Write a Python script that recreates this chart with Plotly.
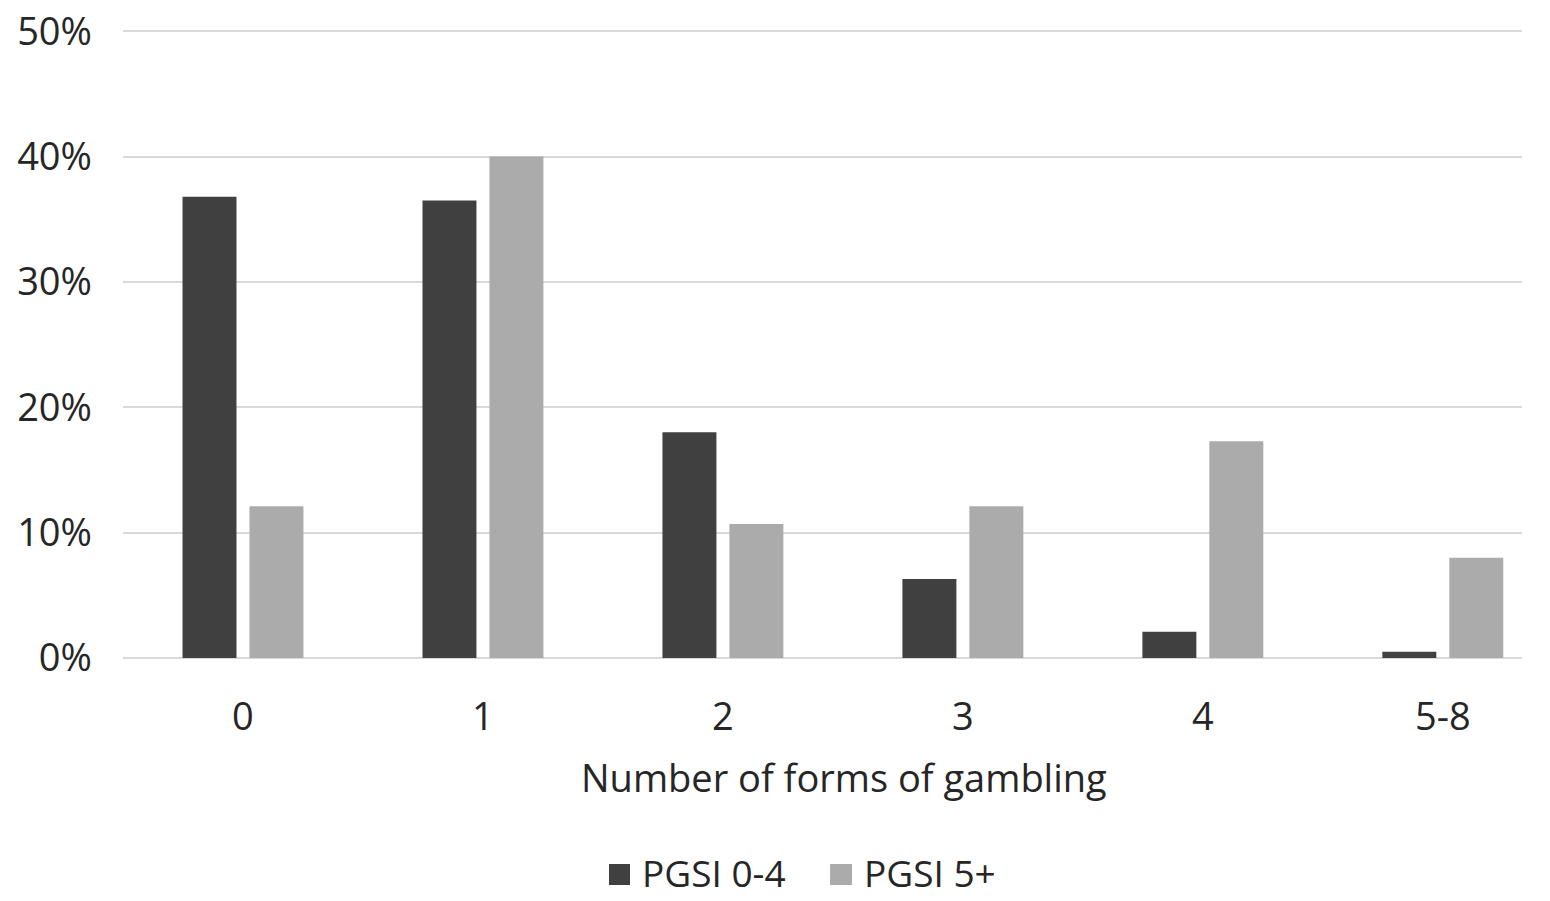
import plotly.graph_objects as go

# Share of respondents by number of gambling forms, split by PGSI group
categories = ["0", "1", "2", "3", "4", "5-8"]
pgsi_low = [36.8, 36.5, 18.0, 6.3, 2.1, 0.5]     # PGSI 0-4
pgsi_high = [12.1, 40.0, 10.7, 12.1, 17.3, 8.0]  # PGSI 5+
series_names = ["PGSI 0-4", "PGSI 5+"]
series_colors = ["#404040", "#ababab"]
y_ticks = [0, 10, 20, 30, 40, 50]
y_tick_labels = [f"{v}%" for v in y_ticks]

FONT = "Open Sans, Noto Sans, sans-serif"
TEXT = "#262626"

fig = go.Figure()
for name, vals, col in zip(series_names, [pgsi_low, pgsi_high], series_colors):
    fig.add_trace(go.Bar(
        x=categories, y=vals, name=name,
        marker=dict(color=col, line=dict(width=0)),
        hovertemplate="%{x}: %{y}%<extra>" + name + "</extra>",
    ))

# Legend drawn below the axis title: swatch squares + labels (paper coords)
legend_items = [
    # (swatch x0, swatch x1, label x)
    (0.3474, 0.3624, 0.3696),
    (0.5054, 0.5211, 0.5282),
]
shapes = []
annotations = [dict(
    text="Number of forms of gambling",
    xref="paper", yref="paper", x=0.5154, y=-0.1895,
    xanchor="center", yanchor="middle", showarrow=False,
    font=dict(size=38, color=TEXT, family=FONT),
)]
for (x0, x1, tx), name, col in zip(legend_items, series_names, series_colors):
    shapes.append(dict(
        type="rect", xref="paper", yref="paper",
        x0=x0, x1=x1, y0=-0.3615, y1=-0.3280,
        fillcolor=col, line=dict(width=0),
    ))
    annotations.append(dict(
        text=name, xref="paper", yref="paper", x=tx, y=-0.3855,
        xanchor="left", yanchor="bottom", showarrow=False,
        font=dict(size=37, color=TEXT, family=FONT),
    ))

fig.update_layout(
    width=1550, height=901,
    margin=dict(l=123, r=28, t=30, b=243, autoexpand=False),
    paper_bgcolor="white", plot_bgcolor="white",
    barmode="group", bargap=0.442, bargroupgap=0.194,
    font=dict(family=FONT, size=38, color=TEXT),
    showlegend=False,
    shapes=shapes,
    annotations=annotations,
)

fig.update_xaxes(
    type="category", range=[-0.5, 5.33],
    showgrid=False, showline=False, zeroline=False,
    ticks="", ticklabelstandoff=33,
    tickfont=dict(size=38, color=TEXT),
)
fig.update_yaxes(
    range=[0, 50.1], tickvals=y_ticks, ticktext=y_tick_labels,
    showgrid=True, gridcolor="#d9d9d9", gridwidth=2,
    zeroline=True, zerolinecolor="#d9d9d9", zerolinewidth=2,
    showline=False, ticks="", ticklabelstandoff=30,
    tickfont=dict(size=38, color=TEXT),
)

fig.write_html("out.html")
